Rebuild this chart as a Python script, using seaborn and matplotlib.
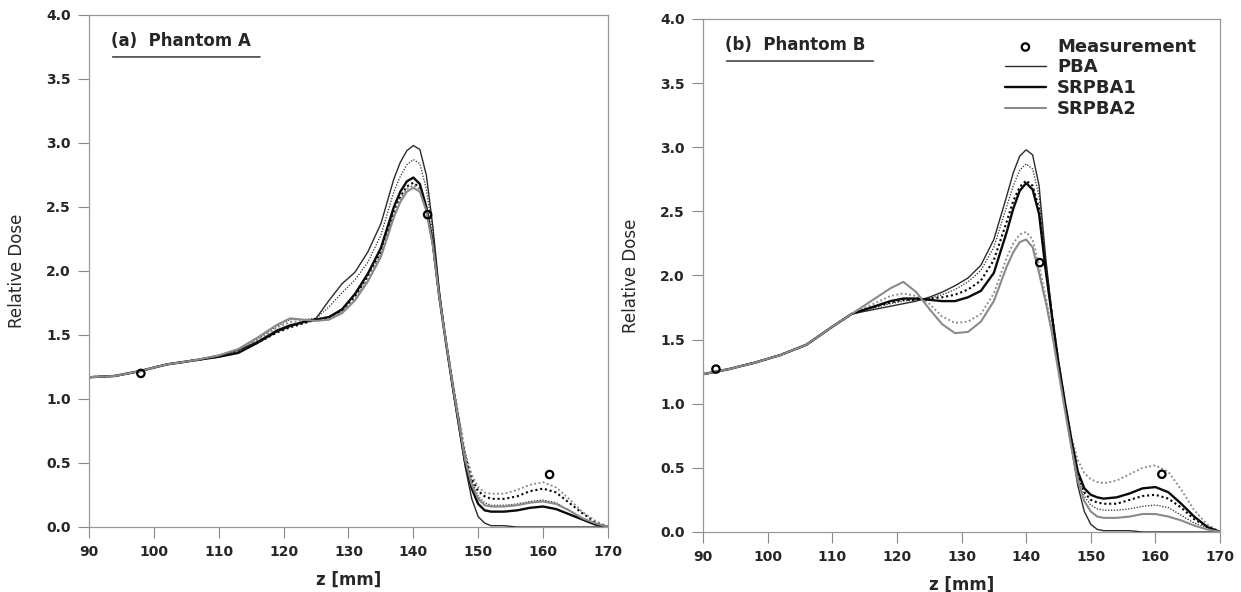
import numpy as np
import pandas as pd
import matplotlib
matplotlib.use('Agg')
import matplotlib.pyplot as plt
import seaborn as sns

# depth grid [mm] shared by all curves
z = [90, 94, 98, 102, 106, 110, 113, 116, 119, 121, 123, 125, 127, 129, 131, 133, 135, 137,
     138, 139, 140, 141, 142, 143, 144, 145, 146, 147, 148, 149, 150, 151, 152,
     154, 156, 158, 160, 162, 164, 166, 168, 170]

# Phantom A
a_pba = [1.17, 1.18, 1.22, 1.27, 1.30, 1.34, 1.38,
         1.45, 1.54, 1.58, 1.60, 1.63, 1.77, 1.90, 1.99, 2.15, 2.37, 2.72,
         2.85, 2.94, 2.98, 2.95, 2.75, 2.35, 1.85, 1.45, 1.10, 0.78, 0.47, 0.22, 0.08, 0.03, 0.01,
         0.01, 0.0, 0.0, 0.0, 0.0, 0.0, 0.0, 0.0, 0.0]
a_pba_dot = [1.17, 1.18, 1.22, 1.27, 1.30, 1.34, 1.39,
             1.47, 1.57, 1.62, 1.62, 1.63, 1.72, 1.83, 1.93, 2.07, 2.28, 2.62,
             2.74, 2.83, 2.87, 2.84, 2.64, 2.30, 1.85, 1.47, 1.14, 0.83, 0.53, 0.36, 0.24, 0.19, 0.17,
             0.17, 0.18, 0.20, 0.21, 0.19, 0.13, 0.07, 0.03, 0.0]
a_s1 = [1.17, 1.18, 1.22, 1.27, 1.30, 1.33, 1.36,
        1.44, 1.53, 1.57, 1.60, 1.62, 1.64, 1.70, 1.82, 1.98, 2.18, 2.50,
        2.62, 2.70, 2.73, 2.68, 2.50, 2.22, 1.80, 1.45, 1.12, 0.81, 0.50, 0.30, 0.18, 0.13, 0.12,
        0.12, 0.13, 0.15, 0.16, 0.14, 0.10, 0.06, 0.02, 0.0]
a_s1_dot = [1.17, 1.18, 1.22, 1.27, 1.30, 1.33, 1.37,
            1.44, 1.52, 1.56, 1.59, 1.62, 1.64, 1.69, 1.80, 1.96, 2.15, 2.46,
            2.58, 2.66, 2.69, 2.65, 2.48, 2.21, 1.80, 1.46, 1.14, 0.84, 0.55, 0.38, 0.28, 0.24, 0.22,
            0.22, 0.24, 0.28, 0.30, 0.27, 0.19, 0.11, 0.04, 0.0]
a_s2 = [1.17, 1.18, 1.22, 1.27, 1.30, 1.34, 1.39,
        1.48, 1.58, 1.63, 1.62, 1.61, 1.62, 1.67, 1.77, 1.92, 2.11, 2.42,
        2.54, 2.62, 2.65, 2.62, 2.47, 2.20, 1.80, 1.46, 1.13, 0.82, 0.52, 0.33, 0.22, 0.17, 0.16,
        0.16, 0.17, 0.19, 0.20, 0.18, 0.13, 0.07, 0.03, 0.0]
a_s2_dot = [1.17, 1.18, 1.22, 1.27, 1.30, 1.34, 1.38,
            1.46, 1.56, 1.60, 1.61, 1.62, 1.63, 1.68, 1.78, 1.94, 2.13, 2.44,
            2.56, 2.64, 2.67, 2.64, 2.48, 2.21, 1.81, 1.47, 1.15, 0.86, 0.58, 0.41, 0.31, 0.27, 0.26,
            0.26, 0.29, 0.33, 0.35, 0.31, 0.22, 0.12, 0.05, 0.0]
a_meas_z = [98, 142.2, 161]
a_meas = [1.20, 2.44, 0.41]

# Phantom B
b_pba = [1.23, 1.27, 1.32, 1.38, 1.46, 1.60, 1.70,
         1.73, 1.76, 1.78, 1.80, 1.83, 1.87, 1.92, 1.98, 2.08, 2.28, 2.62,
         2.80, 2.93, 2.98, 2.94, 2.70, 2.15, 1.70, 1.30, 0.97, 0.66, 0.36, 0.16, 0.06, 0.02, 0.01,
         0.01, 0.01, 0.0, 0.0, 0.0, 0.0, 0.0, 0.0, 0.0]
b_pba_dot = [1.23, 1.27, 1.32, 1.38, 1.46, 1.60, 1.70,
             1.74, 1.78, 1.80, 1.81, 1.82, 1.85, 1.89, 1.95, 2.04, 2.22, 2.54,
             2.70, 2.82, 2.87, 2.83, 2.62, 2.12, 1.70, 1.32, 1.00, 0.70, 0.43, 0.28, 0.21, 0.18, 0.17,
             0.17, 0.18, 0.20, 0.21, 0.19, 0.13, 0.07, 0.03, 0.0]
b_s1 = [1.23, 1.27, 1.32, 1.38, 1.46, 1.60, 1.70,
        1.75, 1.80, 1.82, 1.82, 1.81, 1.80, 1.80, 1.83, 1.88, 2.02, 2.34,
        2.52, 2.66, 2.72, 2.67, 2.48, 2.05, 1.68, 1.32, 1.01, 0.72, 0.47, 0.34, 0.29, 0.27, 0.26,
        0.27, 0.30, 0.34, 0.35, 0.31, 0.22, 0.12, 0.04, 0.0]
b_s1_dot = [1.23, 1.27, 1.32, 1.38, 1.46, 1.60, 1.70,
            1.75, 1.79, 1.81, 1.81, 1.82, 1.83, 1.85, 1.89, 1.96, 2.12, 2.42,
            2.58, 2.69, 2.74, 2.70, 2.52, 2.07, 1.69, 1.32, 1.00, 0.71, 0.45, 0.31, 0.25, 0.23, 0.22,
            0.22, 0.25, 0.28, 0.29, 0.26, 0.19, 0.10, 0.04, 0.0]
b_s2 = [1.23, 1.27, 1.32, 1.38, 1.46, 1.60, 1.70,
        1.80, 1.90, 1.95, 1.87, 1.74, 1.62, 1.55, 1.56, 1.64, 1.80, 2.07,
        2.18, 2.26, 2.28, 2.22, 2.02, 1.80, 1.55, 1.25, 0.95, 0.66, 0.40, 0.24, 0.16, 0.12, 0.11,
        0.11, 0.12, 0.14, 0.14, 0.12, 0.09, 0.05, 0.02, 0.0]
b_s2_dot = [1.23, 1.27, 1.32, 1.38, 1.46, 1.60, 1.70,
            1.77, 1.84, 1.86, 1.84, 1.78, 1.68, 1.63, 1.64, 1.70, 1.86, 2.14,
            2.25, 2.32, 2.34, 2.28, 2.08, 1.84, 1.58, 1.28, 1.00, 0.74, 0.56, 0.46, 0.41, 0.39, 0.38,
            0.40, 0.45, 0.50, 0.52, 0.47, 0.33, 0.17, 0.06, 0.0]
b_meas_z = [92, 142.1, 161]
b_meas = [1.27, 2.10, 0.45]

x_ticks = [90, 100, 110, 120, 130, 140, 150, 160, 170]
y_ticks = [0.0, 0.5, 1.0, 1.5, 2.0, 2.5, 3.0, 3.5, 4.0]

methods = ['PBA', 'SRPBA1', 'SRPBA2']
colors = {'PBA': '#2a2a2a', 'SRPBA1': '#0a0a0a', 'SRPBA2': '#8a8a8a'}
widths = {'PBA': 1.0, 'SRPBA1': 1.7, 'SRPBA2': 1.5}

panels = [
    ('(a)  Phantom A', {'PBA': (a_pba, a_pba_dot), 'SRPBA1': (a_s1, a_s1_dot), 'SRPBA2': (a_s2, a_s2_dot)},
     a_meas_z, a_meas),
    ('(b)  Phantom B', {'PBA': (b_pba, b_pba_dot), 'SRPBA1': (b_s1, b_s1_dot), 'SRPBA2': (b_s2, b_s2_dot)},
     b_meas_z, b_meas),
]

sns.set_theme(style='white')
plt.rcParams['font.family'] = ['DejaVu Sans']

fig = plt.figure(figsize=(12.41, 5.92), dpi=100)
ax_pos = [[0.0717, 0.1098, 0.4182, 0.8649], [0.5665, 0.1014, 0.4166, 0.8666]]

for i, (title, curves, mz, mv) in enumerate(panels):
    ax = fig.add_axes(ax_pos[i])
    for m in methods:
        solid, dotted = curves[m]
        df = pd.DataFrame({'z': z, 'dose': dotted})
        sns.lineplot(data=df, x='z', y='dose', ax=ax, color=colors[m], lw=widths[m] * 0.9,
                     linestyle=(0, (1, 1.3)), label='_nolegend_')
    for m in methods:
        solid, dotted = curves[m]
        df = pd.DataFrame({'z': z, 'dose': solid})
        sns.lineplot(data=df, x='z', y='dose', ax=ax, color=colors[m], lw=widths[m], label=m)
    dm = pd.DataFrame({'z': mz, 'dose': mv})
    sns.scatterplot(data=dm, x='z', y='dose', ax=ax, marker='o', s=28, facecolor='none',
                    edgecolor='black', linewidth=1.6, label='Measurement', zorder=5)

    ax.set_xlim(90, 170)
    ax.set_ylim(0, 4)
    ax.set_xticks(x_ticks)
    ax.set_yticks(y_ticks)
    ax.set_xticklabels([str(t) for t in x_ticks], fontsize=10, fontweight='bold')
    ax.set_yticklabels(['%.1f' % t for t in y_ticks], fontsize=10, fontweight='bold')
    ax.tick_params(axis='both', direction='out', length=8, width=0.8, color='#888888',
                   bottom=True, left=True, pad=5)
    for sp in ax.spines.values():
        sp.set_color('#999999')
        sp.set_linewidth(0.9)
    ax.set_xlabel('z [mm]', fontsize=12, fontweight='bold')
    ax.set_ylabel('Relative Dose', fontsize=12)
    ax.xaxis.set_label_coords(0.5, -0.085)
    ax.yaxis.set_label_coords(-0.122, 0.5)

    ax.text(0.042, 0.95, title, transform=ax.transAxes, fontsize=12, fontweight='bold',
            ha='left', va='center')
    ax.annotate('', xy=(0.335, 0.918), xytext=(0.04, 0.918), xycoords='axes fraction',
                arrowprops=dict(arrowstyle='-', color='#222222', lw=1.0))

    if i == 1:
        h, l = ax.get_legend_handles_labels()
        order = [l.index('Measurement')] + [l.index(m) for m in methods]
        ax.legend([h[k] for k in order], [l[k] for k in order], loc='upper right',
                  bbox_to_anchor=(0.985, 0.995), frameon=False, handlelength=2.3,
                  handletextpad=0.6, labelspacing=0.15, prop={'size': 13, 'weight': 'bold'})
    else:
        leg = ax.get_legend()
        if leg is not None:
            leg.remove()

fig.savefig('out.png', dpi=100)
